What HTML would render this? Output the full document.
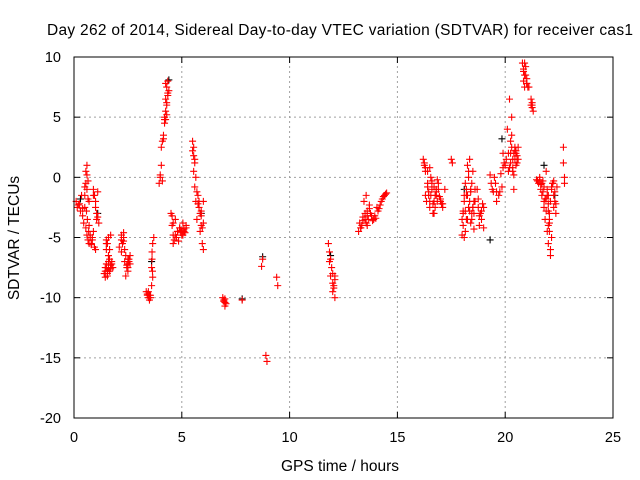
<!DOCTYPE html>
<html><head><meta charset="utf-8"><style>
body{margin:0;background:#fff;}
svg{display:block;font-family:"Liberation Sans",sans-serif;}
</style></head><body>
<svg id="chart" width="640" height="480">
<text x="340" y="35" text-anchor="middle" font-size="15.5" textLength="586">Day 262 of 2014, Sidereal Day-to-day VTEC variation (SDTVAR) for receiver cas1</text>
<text x="340" y="471" text-anchor="middle" font-size="15.5">GPS time / hours</text>
<text transform="translate(19,238) rotate(-90)" text-anchor="middle" font-size="15.5">SDTVAR / TECUs</text>
<g id="grid"></g><g id="ticks"></g><g id="marks"></g>
<rect x="74" y="57" width="539" height="361" fill="none" stroke="#000" stroke-width="1"/>
</svg>
<script>
const xTicks=[0,5,10,15,20,25];
const yTicks=[10,5,0,-5,-10,-15,-20];
const redX=[0.1,0.2,0.3,0.35,0.4,0.45,0.5,0.5,0.55,0.55,0.6,0.6,0.6,0.65,0.65,0.7,0.7,0.75,0.8,0.85,0.9,0.9,0.95,0.95,1.0,1.0,1.05,1.1,1.1,1.15,
1.4,1.45,1.5,1.5,1.55,1.6,1.6,1.65,1.7,1.7,1.75,1.8,1.6,1.55,1.45,1.5,
2.1,2.2,2.2,2.3,2.3,2.35,2.4,2.45,2.5,2.5,2.55,2.6,2.4,2.35,
3.35,3.4,3.45,3.5,3.55,3.6,3.6,3.62,3.65,3.65,3.7,
3.95,4.0,4.05,4.1,4.1,4.15,4.2,4.2,4.25,4.25,4.3,4.3,4.35,4.35,4.4,
4.5,4.55,4.6,4.65,4.7,4.8,4.9,5.0,5.05,5.1,5.15,5.2,4.75,4.85,4.95,
5.5,5.5,5.55,5.55,5.6,5.6,5.65,5.7,5.75,5.8,5.85,5.9,5.95,6.0,6.0,5.9,
6.9,6.95,7.0,7.0,7.05,7.8,8.7,8.75,8.9,8.95,9.4,9.45,
11.8,11.85,11.9,11.95,12.0,12.0,12.05,12.1,12.1,
13.2,13.25,13.3,13.4,13.5,13.6,13.6,13.7,13.8,13.9,14.0,14.1,14.2,14.3,14.4,14.5,13.45,13.55,13.75,
16.2,16.25,16.3,16.35,16.4,16.45,16.5,16.55,16.6,16.65,16.7,16.75,16.8,16.9,17.0,17.1,17.2,16.3,16.5,16.7,16.85,17.05,
17.5,17.55,18.0,18.05,18.1,18.15,18.2,18.25,18.3,18.35,18.4,18.45,18.5,18.55,18.6,18.1,18.2,18.3,18.4,18.5,
18.7,18.75,18.8,18.85,18.9,18.95,19.0,19.3,19.4,19.5,19.55,19.6,19.7,19.8,19.85,
19.9,20.0,20.1,20.15,20.2,20.25,20.3,20.35,20.4,20.45,20.5,20.55,20.6,20.3,20.35,20.4,
20.8,20.85,20.85,20.9,20.9,20.95,21.0,21.0,21.05,21.2,21.25,21.25,21.3,
21.45,21.55,21.6,21.65,21.7,21.75,21.8,21.85,21.9,21.95,22.0,22.0,22.05,22.1,22.15,22.2,22.25,22.3,22.35,22.4,22.1,22.05,22.0,21.9,21.8,
22.7,22.7,22.75,22.75];
const redY=[-2,-2.3,-2.8,-1.5,-3.2,-3.8,-0.8,-2.5,0.5,-4.2,1,-1,-4.8,-0.3,-5.2,-2,-5.5,-5,-5.6,-5.2,-1,-4.5,-1.5,-5.8,-2.5,-6,-3,-1.2,-3.3,-3.8,
-8,-8.3,-7.2,-5.2,-7.8,-5,-7.6,-6,-7.3,-4.8,-7,-7.5,-6.5,-8.2,-7.5,-5.5,
-5.8,-4.8,-6.2,-4.6,-5.3,-7,-6.5,-7.3,-6.8,-7.8,-7,-7.2,-8.2,-6,
-9.5,-9.7,-10,-10.2,-9.8,-9,-7.5,-6.2,-5.5,-8.3,-5,
-0.5,0,2.5,3,-0.3,3.2,4.5,5,4.8,6.5,5.2,7.5,6.8,8,7.2,
-3,-4,-5.5,-5.2,-3.5,-4.5,-4.2,-4.8,-3.8,-4.3,-4.6,-4,-5,-5.3,-4.4,
3,2.2,1.8,0.5,1.2,-0.8,-2,-3.5,-1.5,-2.5,-4.5,-3.2,-5.5,-2,-6,-4,
-10,-10.3,-10.7,-10.1,-10.5,-10.2,-7.4,-6.8,-14.8,-15.3,-8.3,-9,
-5.5,-6.2,-6.8,-7.5,-8,-9.5,-9,-8.5,-10,
-4.5,-3.8,-4.2,-3.3,-3.5,-4,-2.8,-2.3,-3.2,-3.5,-3.4,-2.8,-2.3,-1.8,-1.5,-1.3,-2,-1.5,-3,
1.5,1,0.5,-2,-0.5,-1.5,-2.5,0,-1,-3,-2,-1.5,-1,-0.5,-1.8,-2.5,-1,-1.5,0.8,-3,-0.2,-2.2,
1.5,1.2,-4.8,-4,-2,-0.5,-3.5,1,-2.5,1.5,-1,-3,0.5,-4.3,-2,-5,-1.5,0,-3.8,-2.5,
-1,-2.5,-4,-3,-3.5,-2.2,-4.2,0.2,-1,0,-0.5,-2,-1.5,0.3,-0.8,
2,1,4,0.5,6.5,2,3.5,1.5,0.2,2.2,1,1.8,2.5,5,0.8,-1,
9.5,9,8,8.5,7.5,9.2,7.8,8.2,7.5,6.5,5.8,6,5.5,
-0.2,-0.5,0,-1,-1.5,-0.3,-2,-3.5,0.5,-1.5,-2.2,-4,-3,-6.5,-5,-0.5,-2.5,-1.2,-3,-0.8,-6,-4.5,-2.8,-1.8,-2.5,
2.5,1.2,0,-0.5];
const redX2=[0.15,0.25,0.4,0.5,0.55,0.6,0.65,0.7,0.75,0.8,0.85,0.9,1.0,1.05,0.62,0.58,0.68,
1.45,1.5,1.55,1.6,1.65,1.7,1.75,1.5,1.55,1.6,1.65,
2.2,2.25,2.3,2.45,2.5,2.55,2.6,2.5,
3.4,3.45,3.5,3.55,3.62,3.64,
4.0,4.05,4.15,4.2,4.25,4.3,4.35,4.25,4.3,
4.55,4.6,4.7,4.8,4.9,5.0,5.1,5.2,4.6,4.95,5.05,
5.55,5.6,5.65,5.7,5.75,5.8,5.85,5.9,5.95,6.0,
6.95,7.0,11.85,11.9,12.0,12.05,12.1,
13.3,13.35,13.4,13.5,13.55,13.6,13.65,13.7,13.8,13.85,13.95,14.05,14.15,14.25,14.35,14.45,
16.25,16.3,16.4,16.45,16.5,16.55,16.6,16.65,16.7,16.75,16.8,16.85,16.9,16.95,17.0,17.1,16.4,16.6,16.8,
18.0,18.05,18.1,18.15,18.2,18.25,18.3,18.35,18.4,18.45,18.5,18.55,18.6,18.15,18.25,18.35,18.45,18.55,18.05,
18.75,18.8,18.9,19.0,19.35,19.45,19.6,19.75,19.9,19.95,
20.05,20.15,20.2,20.25,20.3,20.35,20.4,20.45,20.5,20.55,20.25,20.45,20.5,20.6,
20.85,20.9,20.95,21.0,21.1,21.2,21.25,
21.5,21.6,21.7,21.8,21.85,21.9,21.95,22.0,22.05,22.1,22.15,22.2,22.25,22.3,22.35,22.0,22.05,21.95,21.75,21.65,22.15,22.25];
const redY2=[-2.5,-2.2,-2.6,-1.5,-0.5,0.2,-1.8,-4,-4.8,-5.5,-5,-1.5,-2,-3.5,-3.5,-2.8,-4.5,
-7.8,-7.5,-8,-7,-6.8,-7.6,-7.2,-6,-5.5,-6.5,-7.8,
-5.2,-5.5,-5,-7.5,-7.2,-6.8,-6.5,-7.5,
-9.8,-9.5,-9.8,-10,-6.8,-7.8,
0.2,1,3.5,4.8,5.5,6,7,7.8,6.2,
-3.2,-3.8,-4.8,-4.5,-4.2,-4.5,-4.5,-4.2,-4.8,-4.6,-4.8,
2.5,1.5,0,-1.2,-2.2,-2,-3,-2.8,-4.2,-3.8,
-10.2,-10.4,-7,-8.2,-8.8,-9.2,-8.2,
-4.2,-4,-3.6,-3,-3.8,-3.2,-3.5,-2.6,-3.2,-3.6,-3.2,-2.5,-2.6,-2,-1.6,-1.4,
1.2,0.8,-0.8,-1.2,-2,-1.5,-0.3,-2.2,-0.8,-2.5,-1.2,-2,-1,-1.6,-2,-2.2,0.5,-0.5,-1.5,
-3.5,-3,-1.5,-4.5,-1,-3.5,0.5,-2,-1.2,-3.5,-2.5,-3,-1,-2.8,-1.5,-2.8,-0.5,-2,-2.8,
-1.8,-3.2,-2.8,-2.5,-0.5,-1.2,-1.2,-1.2,0.8,1.2,
1.5,2,0.8,1.2,2.5,0.5,2,1.5,2,1.2,3,2.5,2.2,1.5,
8.8,9.5,8.5,7.8,7.5,6,6.2,
-0.3,-0.2,-0.5,-0.8,-1.8,-2.8,-1,-1.5,-3.5,-2,-1,-0.5,-1.5,-2,-2.2,-5.5,-3.8,-4.5,-1.2,-0.6,-0.8,-0.3];
const blackX=[0.3,1.1,3.6,4.4,5.9,7.8,8.75,11.9,18.1,19.3,19.85,21.8,22.3];
const blackY=[-1.8,-3,-7,8.1,-3,-10.1,-6.6,-6.5,-1,-5.2,3.2,1,-1.5];
const X0=74,X1=613,Y0=418,Y1=57;
const sx=v=>X0+(v-0)/25*(X1-X0);
const sy=v=>Y0-(v+20)/30*(Y0-Y1);
const NS='http://www.w3.org/2000/svg';
const grid=document.getElementById('grid'),ticks=document.getElementById('ticks'),marks=document.getElementById('marks');
function mk(tag,attrs,parent){const e=document.createElementNS(NS,tag);for(const k in attrs)e.setAttribute(k,attrs[k]);parent.appendChild(e);return e;}
xTicks.forEach(t=>{const x=sx(t);
 if(t>0&&t<25){const g=mk('line',{x1:x,x2:x,y1:Y0,y2:Y1,stroke:'#a0a0a0','stroke-dasharray':'2,3'},grid);
 
 }
 mk('line',{x1:x,x2:x,y1:Y0,y2:Y0-6,stroke:'#000'},ticks);mk('line',{x1:x,x2:x,y1:Y1,y2:Y1+6,stroke:'#000'},ticks);
 const l=mk('text',{x:x,y:Y0+24,'text-anchor':'middle','font-size':14.5},ticks);l.textContent=t;
 
 });
yTicks.forEach(t=>{const y=sy(t);
 if(t>-20&&t<10){const g=mk('line',{x1:X0,x2:X1,y1:y,y2:y,stroke:'#a0a0a0','stroke-dasharray':'2,3'},grid);
 
 }
 mk('line',{x1:X0,x2:X0+6,y1:y,y2:y,stroke:'#000'},ticks);mk('line',{x1:X1,x2:X1-6,y1:y,y2:y,stroke:'#000'},ticks);
 const l=mk('text',{x:X0-13,y:y+5,'text-anchor':'end','font-size':14.5},ticks);l.textContent=t;
 
 });
function plus(x,y,c,name){const p=mk('path',{d:`M${x-3.5},${y}h7M${x},${y-3.5}v7`,stroke:c,'stroke-width':1.1,fill:'none'},marks);
 
 }
blackX.forEach((h,i)=>plus(sx(h),sy(blackY[i]),'#000','black-point'));
redX.forEach((h,i)=>plus(sx(h),sy(redY[i]),'#f00','sdtvar-point'));
redX2.forEach((h,i)=>plus(sx(h),sy(redY2[i]),'#f00','sdtvar-point'));
</script>
</body></html>
